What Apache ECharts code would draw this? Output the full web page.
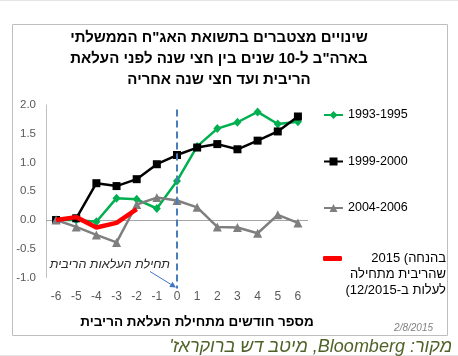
<!DOCTYPE html>
<html><head><meta charset="utf-8">
<script src="https://cdn.jsdelivr.net/npm/echarts@6/dist/echarts.min.js"></script>
<style>html,body{margin:0;padding:0;background:#fff}#c{width:458px;height:356px}</style>
</head><body><div id="c"></div>
<script>
// ---- data ----
const months = ['-6','-5','-4','-3','-2','-1','0','1','2','3','4','5','6'];
const s1993 = [0.00, 0.00, -0.03, 0.38, 0.36, 0.20, 0.68, 1.28, 1.59, 1.70, 1.88, 1.67, 1.71];
const s1999 = [0.00, 0.03, 0.64, 0.59, 0.71, 0.97, 1.13, 1.26, 1.32, 1.23, 1.38, 1.54, 1.80];
const s2004 = [0.00, -0.12, -0.26, -0.39, 0.27, 0.39, 0.34, 0.22, -0.12, -0.13, -0.23, 0.09, -0.05];
const s2015 = [0.00, 0.05, -0.13, -0.05, 0.19];
const seriesNames = ['1993-1995', '1999-2000', '2004-2006', '2015 (בהנחה שהריבית מתחילה לעלות ב-12/2015)'];
const redLegendLines = ['\u202A2015 (בהנחה\u202C', 'שהריבית מתחילה', '\u202Bלעלות ב-12/2015)\u202C'];
const titleLines = ['\u202Bשינויים מצטברים בתשואת האג"ח הממשלתי\u202C', '\u202Bבארה"ב ל-10 שנים בין חצי שנה לפני העלאת\u202C', '\u202Bהריבית ועד חצי שנה אחריה\u202C'];
const xAxisTitle = '\u202Bמספר חודשים מתחילת העלאת הריבית\u202C';
const startLabel = '\u202Bתחילת העלאות הריבית\u202C';
const startMonth = '0';
const sourceText = '\u202Bמקור: Bloomberg, מיטב דש ברוקראז\'\u202C';
const dateText = '2/8/2015';
const yMin = -1, yMax = 2, yStep = 0.5;

const FONT = '"Liberation Sans", Arial, sans-serif';
const chart = echarts.init(document.getElementById('c'), null, {renderer: 'canvas'});

const option = {
  animation: false,
  backgroundColor: '#fff',
  title: {
    text: titleLines.join('\n'),
    left: 219, textAlign: 'center', top: 27,
    padding: 0,
    textStyle: {fontFamily: FONT, fontWeight: 'bold', fontSize: 15, lineHeight: 21, color: '#000'}
  },
  grid: {left: 46, width: 262, top: 105, bottom: 78.5, containLabel: false},
  legend: [{
    data: seriesNames.slice(0, 3),
    orient: 'vertical', left: 323, top: 108, padding: 0,
    itemWidth: 19, itemHeight: 10, itemGap: 32.5,
    textStyle: {fontFamily: FONT, fontSize: 12.5, color: '#000', lineHeight: 14}
  }, {
    data: [{name: seriesNames[3], icon: 'roundRect'}],
    orient: 'vertical', left: 323, top: 252, padding: 0,
    itemWidth: 19, itemHeight: 5,
    formatter: () => redLegendLines.map(l => '{r|' + l + '}').join('\n'),
    textStyle: {
      fontFamily: FONT, fontSize: 13, color: '#000', padding: [32, 0, 0, 0],
      rich: {r: {width: 99, align: 'right', lineHeight: 16, fontSize: 13, fontFamily: FONT, color: '#000'}}
    }
  }],
  xAxis: {
    type: 'category', data: months, boundaryGap: true,
    axisLine: {show: false}, axisTick: {show: false},
    axisLabel: {margin: 13, fontSize: 12, color: '#595959', fontFamily: FONT},
    name: xAxisTitle, nameLocation: 'middle', nameGap: 38,
    nameTextStyle: {fontFamily: FONT, fontWeight: 'bold', fontSize: 13.5, color: '#000', padding: [0, 0, 0, 40]}
  },
  yAxis: {
    type: 'value', min: yMin, max: yMax, interval: yStep,
    axisLine: {show: true, lineStyle: {color: '#BFBFBF', width: 1}},
    axisTick: {show: false}, splitLine: {show: false},
    axisLabel: {margin: 10, fontSize: 11.5, color: '#595959', fontFamily: FONT, formatter: v => v.toFixed(1)}
  },
  series: [
    {name: seriesNames[0], type: 'line', data: s1993, symbol: 'diamond', symbolSize: [8, 9],
     lineStyle: {width: 2.5, color: '#00B050'}, itemStyle: {color: '#00B050'}, z: 2,
     markLine: {silent: true, symbol: 'none', label: {show: false},
       lineStyle: {color: '#A6A6A6', width: 1, type: 'solid'}, data: [{yAxis: 0}], z: 1}},
    {name: seriesNames[1], type: 'line', data: s1999, symbol: 'rect', symbolSize: 8,
     lineStyle: {width: 2.5, color: '#000000'}, itemStyle: {color: '#000000'}, z: 3},
    {name: seriesNames[2], type: 'line', data: s2004, symbol: 'triangle', symbolSize: 9,
     lineStyle: {width: 2.5, color: '#7F7F7F'}, itemStyle: {color: '#7F7F7F'}, z: 4},
    {name: seriesNames[3], type: 'line', data: s2015, symbol: 'none', showSymbol: false,
     lineStyle: {width: 4.5, color: '#FF0000'}, itemStyle: {color: '#FF0000'}, z: 5}
  ]
};
chart.setOption(option);

// annotations anchored through the axes
const pTop = chart.convertToPixel({gridIndex: 0}, [startMonth, 1.92]);
const pBot = chart.convertToPixel({gridIndex: 0}, [startMonth, yMin]);
const x0 = pTop[0];
const arrowEnd = [x0 - 1, pBot[1] + 10];
const arrowStart = [x0 - 27, pBot[1] - 6];
const ang = Math.atan2(arrowEnd[1] - arrowStart[1], arrowEnd[0] - arrowStart[0]);
const ah = 6, aw = 3;
const bx = arrowEnd[0] - ah * Math.cos(ang), by = arrowEnd[1] - ah * Math.sin(ang);
chart.setOption({
  graphic: [
    {type: 'rect', shape: {x: 12.5, y: 24.5, width: 435, height: 311}, style: {fill: null, stroke: '#BFBFBF', lineWidth: 1}, z: -1, silent: true},
    {type: 'line', shape: {x1: 0, y1: 0.5, x2: 458, y2: 0.5}, style: {stroke: '#E6E6E6', lineWidth: 1}, silent: true},
    {type: 'line', shape: {x1: 0, y1: 355.5, x2: 458, y2: 355.5}, style: {stroke: '#E6E6E6', lineWidth: 1}, silent: true},
    {type: 'line', shape: {x1: x0, y1: pTop[1], x2: x0, y2: pBot[1] + 11},
     style: {stroke: '#4A7EBB', lineWidth: 2, lineDash: [7, 4]}, z: 10, silent: true},
    {type: 'line', shape: {x1: arrowStart[0], y1: arrowStart[1], x2: bx, y2: by},
     style: {stroke: '#4472C4', lineWidth: 1}, z: 10, silent: true},
    {type: 'polygon', shape: {points: [arrowEnd,
        [bx + aw * Math.sin(ang), by - aw * Math.cos(ang)],
        [bx - aw * Math.sin(ang), by + aw * Math.cos(ang)]]},
     style: {fill: '#4472C4'}, z: 10, silent: true},
    {type: 'text', x: x0 - 7, y: pBot[1] - 12.5,
     style: {text: startLabel, font: 'italic 12.5px ' + FONT, fill: '#262626', align: 'right', verticalAlign: 'middle'}, z: 10},
    {type: 'text', x: 433, y: 328,
     style: {text: dateText, font: 'italic 10px ' + FONT, fill: '#7F7F7F', align: 'right', verticalAlign: 'middle'}},
    {type: 'text', x: 452, y: 347,
     style: {text: sourceText, font: 'italic 18px ' + FONT, fill: '#4F6228', align: 'right', verticalAlign: 'middle'}}
  ]
});
</script></body></html>
